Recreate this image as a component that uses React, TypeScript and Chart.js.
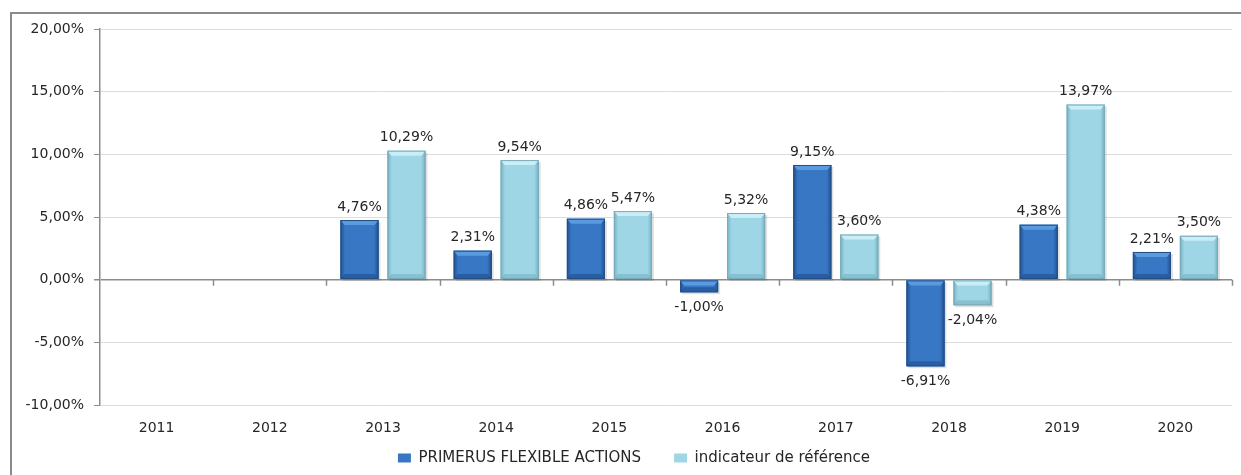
import React, { useEffect, useRef } from "react";
import { Chart, registerables } from "chart.js";

Chart.register(...registerables);

const categories = ["2011", "2012", "2013", "2014", "2015", "2016", "2017", "2018", "2019", "2020"];
const fundValues: (number | null)[] = [null, null, 4.76, 2.31, 4.86, -1.0, 9.15, -6.91, 4.38, 2.21];
const benchValues: (number | null)[] = [null, null, 10.29, 9.54, 5.47, 5.32, 3.6, -2.04, 13.97, 3.5];
const seriesNames = ["PRIMERUS FLEXIBLE ACTIONS", "indicateur de référence"];
const yMin = -10;
const yMax = 20;
const yStep = 5;

const FONT = "'DejaVu Sans', sans-serif";
const fmt = (v: number) => v.toFixed(2).replace(".", ",") + "%";

const LEGEND_PAD = 33;
const LEGEND_FONT = 15;

const shades = [
  { base: "#3777c4", dark: "#1f4f8f", light: "#5c9ae0", border: "#244f85" },
  { base: "#9fd6e6", dark: "#74b3c4", light: "#c9eef7", border: "#7aa9b6" },
];

const bevelPlugin = {
  id: "bevel",
  afterDatasetsDraw(chart: any) {
    const ctx = chart.ctx;
    chart.data.datasets.forEach((ds: any, di: number) => {
      const meta = chart.getDatasetMeta(di);
      const s = shades[di];
      meta.data.forEach((el: any, i: number) => {
        const v = ds.data[i];
        if (v === null || v === undefined) return;
        const { x, y, base, width } = el.getProps(["x", "y", "base", "width"], true);
        const left = x - width / 2;
        const top = Math.min(y, base);
        const bottom = Math.max(y, base);
        const h = bottom - top;
        ctx.save();
        ctx.fillStyle = "rgba(0,0,0,0.12)";
        ctx.fillRect(left + 2, top + 2, width, h);
        const g = ctx.createLinearGradient(left, 0, left + width, 0);
        g.addColorStop(0, s.dark);
        g.addColorStop(0.12, s.base);
        g.addColorStop(0.5, s.base);
        g.addColorStop(0.88, s.base);
        g.addColorStop(1, s.dark);
        ctx.fillStyle = g;
        ctx.fillRect(left, top, width, h);
        const bh = Math.min(5, h / 2);
        ctx.fillStyle = s.light;
        ctx.beginPath();
        ctx.moveTo(left, top);
        ctx.lineTo(left + width, top);
        ctx.lineTo(left + width - 4, top + bh);
        ctx.lineTo(left + 4, top + bh);
        ctx.closePath();
        ctx.fill();
        ctx.fillStyle = s.dark;
        ctx.globalAlpha = 0.6;
        ctx.beginPath();
        ctx.moveTo(left, bottom);
        ctx.lineTo(left + width, bottom);
        ctx.lineTo(left + width - 4, bottom - bh);
        ctx.lineTo(left + 4, bottom - bh);
        ctx.closePath();
        ctx.fill();
        ctx.globalAlpha = 1;
        ctx.strokeStyle = s.border;
        ctx.lineWidth = 1;
        ctx.strokeRect(left + 0.5, top + 0.5, width - 1, h - 1);
        ctx.restore();
      });
    });
  },
};

const labelPlugin = {
  id: "valueLabels",
  afterDatasetsDraw(chart: any) {
    const ctx = chart.ctx;
    ctx.save();
    ctx.font = `14px ${FONT}`;
    ctx.fillStyle = "#262626";
    ctx.textAlign = "center";
    chart.data.datasets.forEach((ds: any, di: number) => {
      const meta = chart.getDatasetMeta(di);
      meta.data.forEach((el: any, i: number) => {
        const v = ds.data[i];
        if (v === null || v === undefined) return;
        const { x, y } = el.getProps(["x", "y"], true);
        if (v >= 0) {
          ctx.textBaseline = "bottom";
          ctx.fillText(fmt(v), x, y - 6);
        } else {
          ctx.textBaseline = "top";
          ctx.fillText(fmt(v), x, y + 8);
        }
      });
    });
    ctx.restore();
  },
};

const axisTicksPlugin = {
  id: "zeroTicks",
  afterDraw(chart: any) {
    const ctx = chart.ctx;
    const xs = chart.scales.x;
    const ys = chart.scales.y;
    const y0 = ys.getPixelForValue(0);
    ctx.save();
    ctx.strokeStyle = "#8c8c8c";
    ctx.lineWidth = 1.5;
    ctx.beginPath();
    for (let i = 1; i <= categories.length; i++) {
      const px =
        i < categories.length
          ? (xs.getPixelForValue(i - 1) + xs.getPixelForValue(i)) / 2
          : chart.chartArea.right;
      ctx.moveTo(Math.round(px) + 0.5, y0);
      ctx.lineTo(Math.round(px) + 0.5, y0 + 6);
    }
    ctx.stroke();
    ctx.restore();
  },
};

// places the legend row at the reference position
const legendPlacePlugin = {
  id: "legendPlace",
  beforeDraw(chart: any) {
    const lg = chart.legend;
    if (!lg) return;
    lg.top = 458 - LEGEND_PAD - LEGEND_FONT / 2;
    lg.bottom = chart.height;
    const w = lg.right - lg.left;
    const cx = 634;
    lg.left = cx - w / 2;
    lg.right = lg.left + w;
  },
};

export default function App() {
  const ref = useRef<HTMLCanvasElement>(null);
  useEffect(() => {
    if (!ref.current) return;
    const chart = new Chart(ref.current, {
      type: "bar",
      data: {
        labels: categories,
        datasets: [
          {
            label: seriesNames[0],
            data: fundValues,
            backgroundColor: shades[0].base,
            borderColor: shades[0].border,
            borderWidth: 0,
          },
          {
            label: seriesNames[1],
            data: benchValues,
            backgroundColor: shades[1].base,
            borderColor: shades[1].border,
            borderWidth: 0,
          },
        ],
      },
      options: {
        animation: false,
        responsive: true,
        maintainAspectRatio: false,
        datasets: { bar: { categoryPercentage: 0.83, barPercentage: 0.81 } },
        layout: { padding: { left: 0, right: 9, top: 29, bottom: 0 } },
        plugins: {
          tooltip: { enabled: false },
          legend: {
            position: "bottom",
            maxHeight: 39,
            labels: {
              font: { family: FONT, size: LEGEND_FONT },
              color: "#262626",
              boxWidth: 13,
              boxHeight: 9,
              padding: LEGEND_PAD,
            },
          },
        },
        scales: {
          x: {
            grid: { display: false, drawTicks: false },
            border: { display: false },
            ticks: { font: { family: FONT, size: 14 }, color: "#262626", padding: 15 },
            afterFit: (s: any) => {
              s.height = 31;
            },
          },
          y: {
            min: yMin,
            max: yMax,
            ticks: {
              stepSize: yStep,
              font: { family: FONT, size: 14 },
              color: "#262626",
              padding: 10,
              callback: (v: any) => fmt(Number(v)),
            },
            grid: {
              color: (c: any) => (c.tick && c.tick.value === 0 ? "#8c8c8c" : "#dcdcdc"),
              lineWidth: (c: any) => (c.tick && c.tick.value === 0 ? 1.5 : 1),
              tickColor: "#8c8c8c",
              tickLength: 6,
            },
            border: { display: true, color: "#8c8c8c", width: 1.5 },
            afterFit: (s: any) => {
              s.width = 100;
            },
          },
        },
      },
      plugins: [bevelPlugin, labelPlugin, axisTicksPlugin, legendPlacePlugin],
    });
    return () => chart.destroy();
  }, []);

  return (
    <div style={{ position: "fixed", left: 0, top: 0, width: 1241, height: 475, background: "#fff" }}>
      <div
        style={{
          position: "absolute",
          left: 10,
          top: 12,
          width: 1240,
          height: 470,
          borderLeft: "2px solid #8a8a8a",
          borderTop: "2px solid #8a8a8a",
          boxSizing: "border-box",
        }}
      />
      <canvas ref={ref} style={{ position: "absolute", left: 0, top: 0 }} />
    </div>
  );
}
